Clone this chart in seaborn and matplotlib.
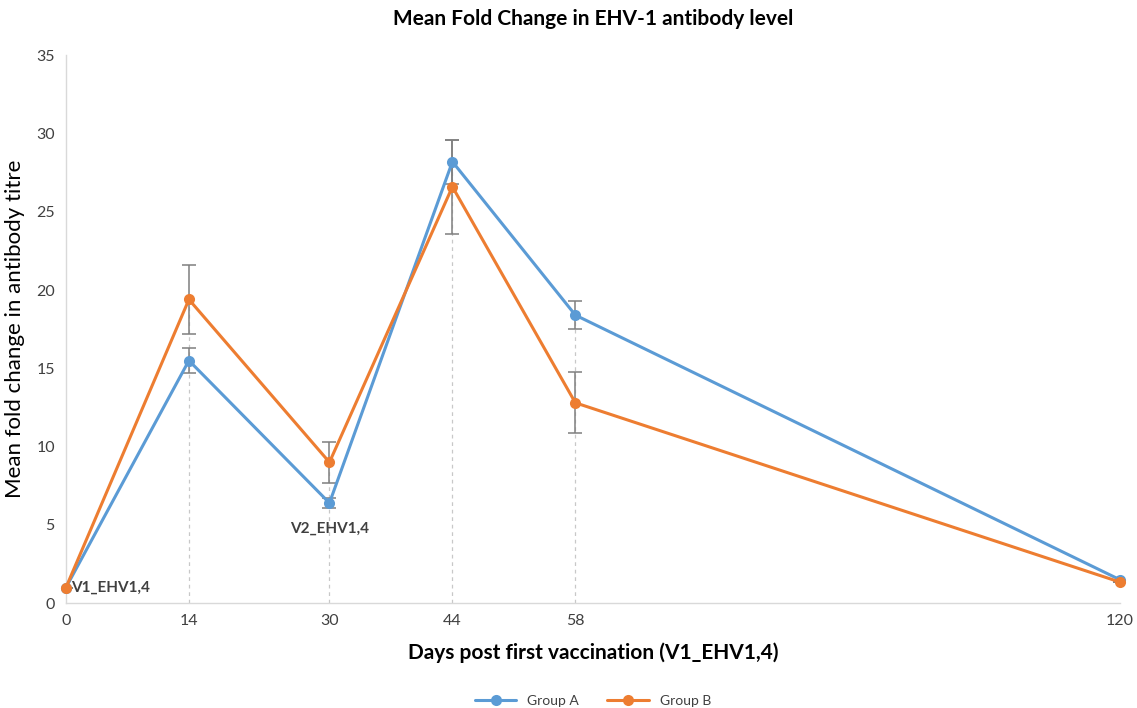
import pandas as pd
import seaborn as sns
import matplotlib.pyplot as plt

# data
days = [0, 14, 30, 44, 58, 120]
group_a = [1.0, 15.5, 6.4, 28.2, 18.4, 1.5]
group_b = [1.0, 19.4, 9.0, 26.6, 12.8, 1.35]
err_a = [0, 0.8, 0.3, 1.4, 0.9, 0]
err_b = [0, 2.2, 1.3, 3.0, 1.95, 0]
drop_days = [14, 30, 44, 58]

blue = '#5B9BD5'
orange = '#ED7D31'

df = pd.DataFrame({
    'day': days * 2,
    'fold': group_a + group_b,
    'group': ['Group A'] * len(days) + ['Group B'] * len(days),
})

sns.set_style('white')
plt.rcParams['font.family'] = ['Lato', 'DejaVu Sans']

fig = plt.figure(figsize=(11.37, 7.08), dpi=100)
ax = fig.add_axes([0.058, 0.148, 0.927, 0.774])

# drop lines from the highest point down to the axis
for d in drop_days:
    i = days.index(d)
    ax.plot([d, d], [0, max(group_a[i], group_b[i])], ls=(0, (3, 3)),
            color='#c8c8c8', lw=0.9, zorder=1)

# error bars
ax.errorbar(days, group_a, yerr=err_a, fmt='none', ecolor='#7f7f7f',
            elinewidth=1.1, capsize=5, capthick=1.1, zorder=2)
ax.errorbar(days, group_b, yerr=err_b, fmt='none', ecolor='#7f7f7f',
            elinewidth=1.1, capsize=5, capthick=1.1, zorder=2)

sns.lineplot(data=df, x='day', y='fold', hue='group', palette=[blue, orange],
             marker='o', markersize=8, markeredgewidth=0, linewidth=2.2,
             ax=ax, zorder=3, clip_on=False)

ax.set_xlim(0, 120)
ax.set_ylim(0, 35)
ax.set_xticks(days)
ax.set_yticks(range(0, 36, 5))
ax.tick_params(axis='both', labelsize=11.5, colors='#404040', length=0, pad=8)

for side in ['top', 'right']:
    ax.spines[side].set_visible(False)
for side in ['left', 'bottom']:
    ax.spines[side].set_color('#d9d9d9')
    ax.spines[side].set_linewidth(1)

ax.text(0.6, 1.0, 'V1_EHV1,4', fontsize=11, fontweight='bold', color='#404040',
        va='center', ha='left', zorder=4)
ax.text(30, 5.2, 'V2_EHV1,4', fontsize=11, fontweight='bold', color='#404040',
        va='top', ha='center', zorder=4)

ax.set_title('Mean Fold Change in EHV-1 antibody level', fontsize=15,
             fontweight='bold', color='black', pad=22)
ax.set_ylabel('Mean fold change in antibody titre', fontsize=16, color='black',
              labelpad=8)
ax.set_xlabel('Days post first vaccination (V1_EHV1,4)', fontsize=15,
              fontweight='bold', color='black', labelpad=10)

ax.legend(loc='upper center', bbox_to_anchor=(0.5, -0.145), ncol=2,
          frameon=False, fontsize=10, handlelength=3, columnspacing=2,
          labelcolor='#404040')

fig.savefig('out.png', dpi=100)
